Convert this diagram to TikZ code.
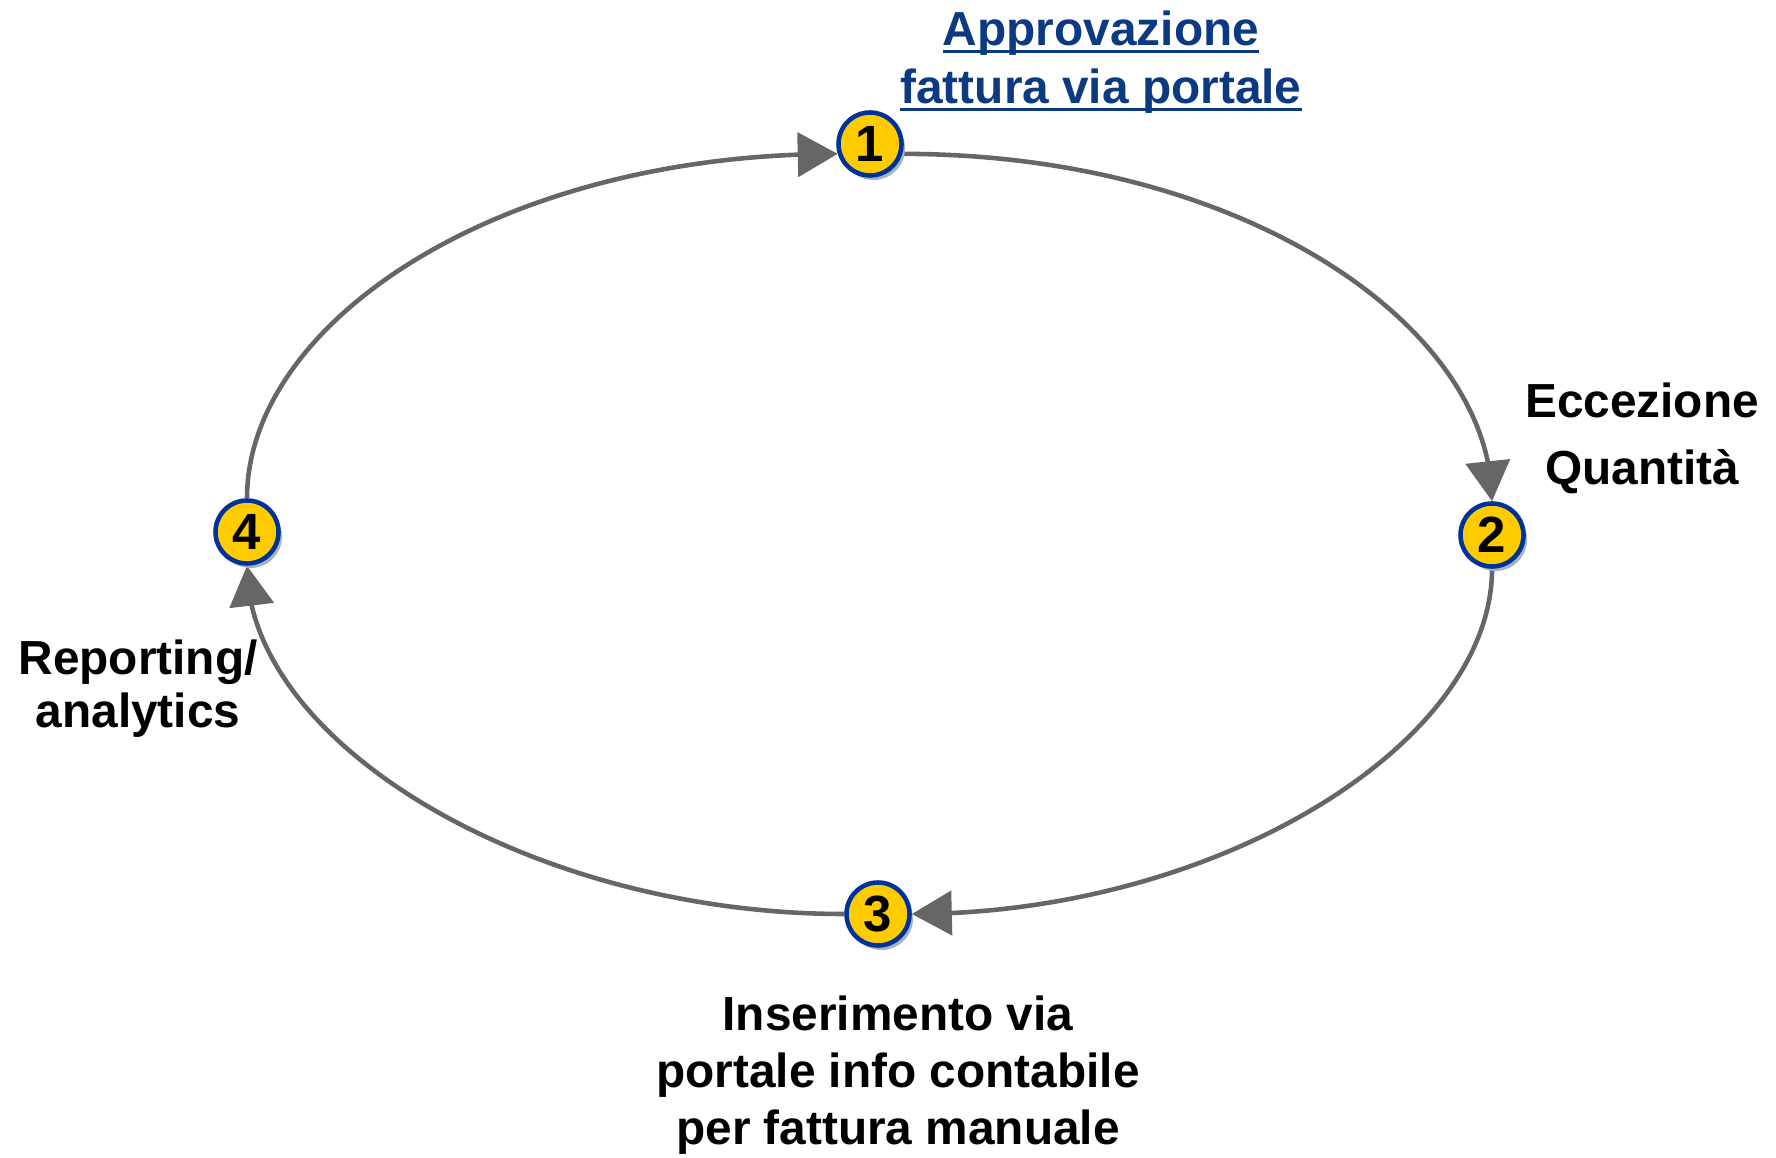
\documentclass[tikz,border=0pt]{standalone}
\usepackage{fontspec}
\setmainfont{Liberation Sans}
\usetikzlibrary{arrows.meta,bending,shadows,backgrounds}

\definecolor{ringblue}{HTML}{003399}
\definecolor{stepyellow}{HTML}{FFCC00}
\definecolor{flowgray}{HTML}{666666}
\definecolor{linkblue}{HTML}{0B3A82}
\definecolor{shadowgray}{HTML}{A3B4C2}

% underline at a fixed depth, through the descenders
\newcommand{\ulword}[1]{\setbox0\hbox{#1}\rlap{\rule[-2.1pt]{\wd0}{0.85pt}}\box0}

\tikzset{
  stepnode/.style={circle, draw=ringblue, fill=stepyellow, line width=1.3pt,
    minimum size=0.63cm, inner sep=0pt, font=\fontsize{14.5}{14.5}\selectfont\bfseries,
    drop shadow={shadow xshift=0.035cm, shadow yshift=-0.045cm, fill=shadowgray, opacity=1}},
  steplabel/.style={align=center, inner sep=0pt},
  flow/.style={draw=flowgray, line width=1.3pt, -{Triangle[length=0.4cm,width=0.44cm]}},
}

\begin{document}
\begin{tikzpicture}
  \useasboundingbox (0,0) rectangle (17.76,11.57);

  % steps of the cycle
  \node[stepnode] (c1) at (8.70,10.13) {1}; %
  \node[stepnode] (c2) at (14.92,6.22) {2}; %
  \node[stepnode] (c3) at (8.78,2.43) {3}; %
  \node[stepnode] (c4) at (2.47,6.25) {4}; %

  % labels
  \node[steplabel, text=linkblue, font=\fontsize{13.6}{16.6}\selectfont\bfseries] (lab1) at (11.01,10.95)
    {\ulword{Approvazione}\\\ulword{fattura via portale}}; %
  \node[steplabel, font=\fontsize{13.6}{19.1}\selectfont\bfseries] (lab2) at (16.42,7.185)
    {Eccezione\\Quantità}; %
  \node[steplabel, font=\fontsize{13.6}{16.2}\selectfont\bfseries] (lab3) at (8.98,0.815)
    {Inserimento via\\portale info contabile\\per fattura manuale}; %
  \node[steplabel, font=\fontsize{13.6}{15.1}\selectfont\bfseries] (lab4) at (1.38,4.685)
    {Reporting/\\analytics}; %

  % the cycle, clockwise
  \begin{scope}[on background layer]
    \draw[flow] (c4) .. controls +(0,2.07) and +(-3.44,0) .. (c1.197);
    \draw[flow] (c1.343) .. controls +(3.43,0) and +(0,2.08) .. (c2);
    \draw[flow] (c2) .. controls +(0,-2.09) and +(3.39,0) .. (c3);
    \draw[flow] (c3) .. controls +(-3.48,0) and +(0,-2.11) .. (c4);
  \end{scope}
\end{tikzpicture}
\end{document}
